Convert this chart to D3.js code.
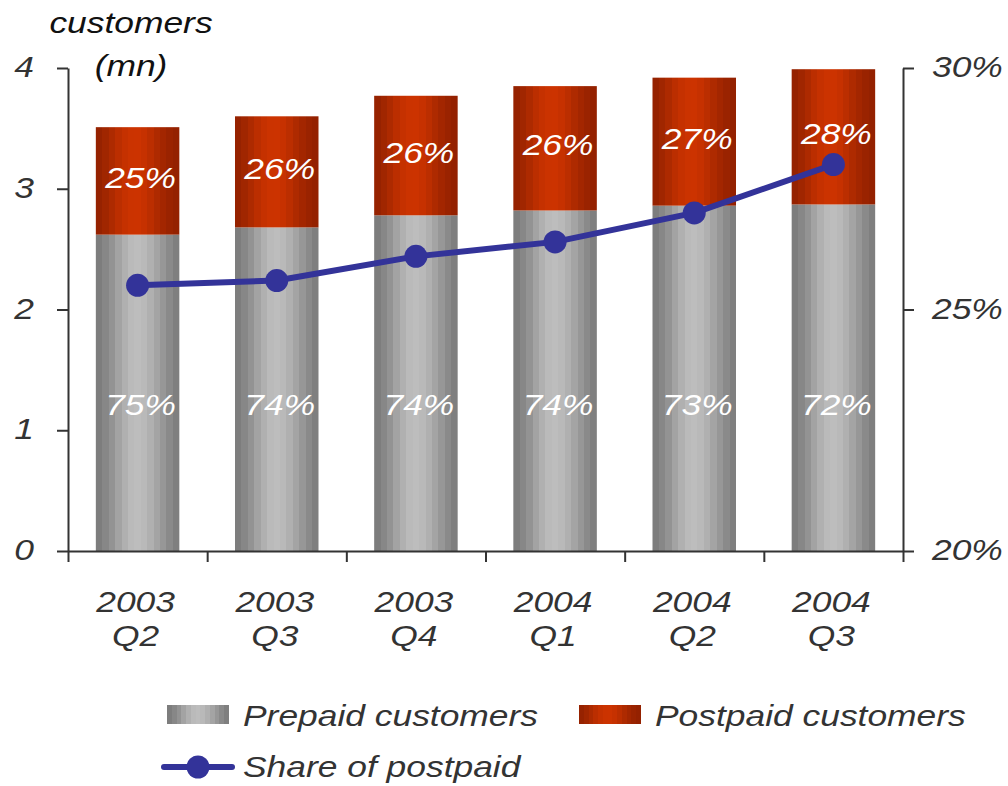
<!DOCTYPE html>
<html>
<head>
<meta charset="utf-8">
<script src="https://cdn.jsdelivr.net/npm/d3@7"></script>
<style>
  html, body { margin: 0; padding: 0; background: #fff; }
  svg text { font-family: "Liberation Sans", Arial, sans-serif; font-style: italic; }
</style>
</head>
<body>
<svg id="chart" width="1008" height="786"></svg>
<script>
// Quarterly customer base (millions) and share of postpaid (%)
const years = ["2003", "2003", "2003", "2004", "2004", "2004"];
const quarters = ["Q2", "Q3", "Q4", "Q1", "Q2", "Q3"];
const prepaid = [2.62, 2.68, 2.78, 2.82, 2.86, 2.87];
const postpaid = [0.89, 0.92, 0.99, 1.03, 1.06, 1.12];
const postpaidShare = [25.5, 25.6, 26.1, 26.4, 27.0, 28.0];
const prepaidLabels = ["75%", "74%", "74%", "74%", "73%", "72%"];
const postpaidLabels = ["25%", "26%", "26%", "26%", "27%", "28%"];
const leftTicks = [0, 1, 2, 3, 4];
const rightTicks = [20, 25, 30];

const svg = d3.select("#chart");
const TEXT = "#333333";
const STRETCH = 1.18;
const FS = 30;

const categories = years.map((y, i) => y + " " + quarters[i]);
const x = d3.scaleBand().domain(categories).range([68, 903]).paddingInner(0.4).paddingOuter(0.2);
const yL = d3.scaleLinear().domain([0, 4]).range([551, 68]);
const yR = d3.scaleLinear().domain([20, 30]).range([551, 68]);

// Banded cylinder-like gradients
const defs = svg.append("defs");
function bands(id, colors) {
  const g = defs.append("linearGradient").attr("id", id).attr("x1", 0).attr("x2", 1).attr("y1", 0).attr("y2", 0);
  const n = colors.length;
  colors.forEach((c, i) => {
    g.append("stop").attr("offset", i / n).attr("stop-color", c);
    g.append("stop").attr("offset", (i + 1) / n).attr("stop-color", c);
  });
}
bands("gradGray", ["#7d7d7d", "#878787", "#939393", "#a3a3a3", "#b0b0b0", "#bababa", "#bdbdbd", "#b9b9b9", "#b0b0b0", "#a4a4a4", "#979797", "#8a8a8a", "#7f7f7f"]);
bands("gradRed", ["#962200", "#a02600", "#ad2a00", "#bb2e00", "#c53100", "#cb3300", "#cc3300", "#c63100", "#bb2e00", "#ae2a00", "#a32600", "#9a2300", "#942100"]);

function stext(parent, px, py, str, anchor, fill, size) {
  return parent.append("text")
    .attr("transform", `translate(${px},${py}) scale(${STRETCH},1)`)
    .attr("text-anchor", anchor || "middle")
    .attr("fill", fill || TEXT)
    .attr("font-size", size || FS)
    .text(str);
}

// Bars
const bars = svg.append("g");
categories.forEach((c, i) => {
  const x0 = x(c), w = x.bandwidth();
  const top = prepaid[i] + postpaid[i];
  bars.append("rect").attr("x", x0).attr("width", w)
    .attr("y", yL(prepaid[i])).attr("height", yL(0) - yL(prepaid[i]))
    .attr("fill", "url(#gradGray)");
  bars.append("rect").attr("x", x0).attr("width", w)
    .attr("y", yL(top)).attr("height", yL(prepaid[i]) - yL(top))
    .attr("fill", "url(#gradRed)");
});

// Axes
const axisStyle = g => {
  g.selectAll("path, line").attr("stroke", "#333").attr("stroke-width", 2);
  g.selectAll("text").remove();
};
svg.append("g").attr("transform", "translate(68,0)")
  .call(d3.axisLeft(yL).tickValues(leftTicks).tickSize(11).tickSizeOuter(0))
  .call(axisStyle);
svg.append("g").attr("transform", "translate(903,0)")
  .call(d3.axisRight(yR).tickValues(rightTicks).tickSize(11).tickSizeOuter(0))
  .call(axisStyle);

// Category axis with ticks between groups
const step = x.step();
const x0Axis = x(categories[0]) - x.paddingOuter() * step;
const xb = d3.scaleLinear().domain([0, categories.length]).range([x0Axis, x0Axis + step * categories.length]);
svg.append("g").attr("transform", "translate(0,551)")
  .call(d3.axisBottom(xb).tickValues(d3.range(0, categories.length + 1)).tickSize(11).tickSizeOuter(0))
  .call(axisStyle);

// Tick labels
leftTicks.forEach(t => stext(svg, 34, yL(t) + 9, String(t), "end"));
rightTicks.forEach(t => stext(svg, 932, yR(t) + 9, t + "%", "start"));
categories.forEach((c, i) => {
  const cx = x(c) + x.bandwidth() / 2;
  stext(svg, cx - 2, 612, years[i]);
  stext(svg, cx - 2, 646, quarters[i]);
});

// Axis title
stext(svg, 131, 33, "customers", "middle", "#111");
stext(svg, 131, 76, "(mn)", "middle", "#111");

// Share of postpaid line
const lineG = svg.append("g");
const pts = categories.map((c, i) => [x(c) + x.bandwidth() / 2, yR(postpaidShare[i])]);
lineG.append("path").attr("d", d3.line()(pts))
  .attr("fill", "none").attr("stroke", "#333399").attr("stroke-width", 6).attr("stroke-linejoin", "round");
lineG.selectAll("circle").data(pts).join("circle")
  .attr("cx", d => d[0]).attr("cy", d => d[1]).attr("r", 11.5).attr("fill", "#333399");

// Percentage labels inside bars
categories.forEach((c, i) => {
  const cx = x(c) + x.bandwidth() / 2 + 3;
  const mid = (yL(prepaid[i]) + yL(prepaid[i] + postpaid[i])) / 2;
  stext(svg, cx, mid + 7, postpaidLabels[i], "middle", "#fff");
  stext(svg, cx, 415, prepaidLabels[i], "middle", "#fff");
});

// Legend
const leg = svg.append("g");
leg.append("rect").attr("x", 167).attr("y", 705).attr("width", 62).attr("height", 19).attr("fill", "url(#gradGray)");
stext(leg, 243, 726, "Prepaid customers", "start");
leg.append("rect").attr("x", 579).attr("y", 705).attr("width", 62).attr("height", 19).attr("fill", "url(#gradRed)");
stext(leg, 655, 726, "Postpaid customers", "start");
leg.append("line").attr("x1", 164).attr("x2", 232).attr("y1", 767).attr("y2", 767)
  .attr("stroke", "#333399").attr("stroke-width", 6).attr("stroke-linecap", "round");
leg.append("circle").attr("cx", 198).attr("cy", 767).attr("r", 11.5).attr("fill", "#333399");
stext(leg, 243, 777, "Share of postpaid", "start");
</script>
</body>
</html>
